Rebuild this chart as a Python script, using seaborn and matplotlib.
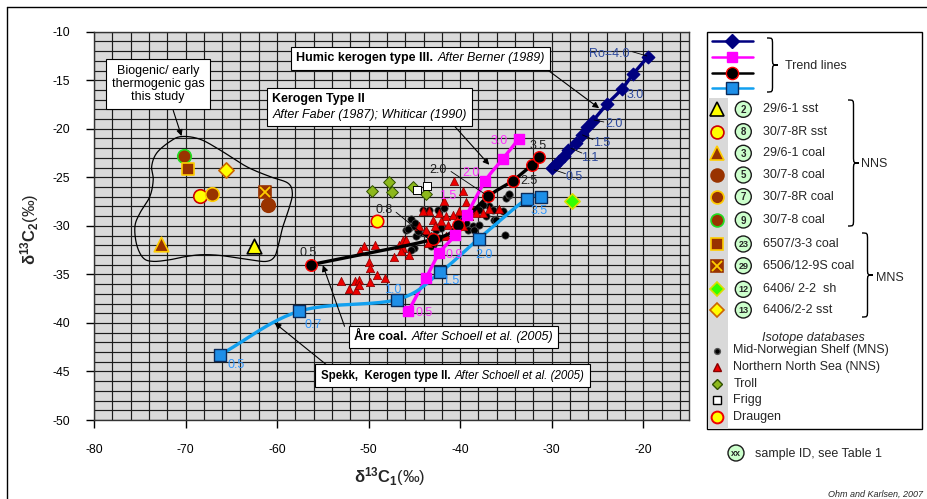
import numpy as np
import pandas as pd
import seaborn as sns
import matplotlib
matplotlib.use("Agg")
import matplotlib.pyplot as plt
from matplotlib.patches import Rectangle, Ellipse, PathPatch
from matplotlib.path import Path
from matplotlib.offsetbox import TextArea, HPacker, VPacker, AnnotationBbox

sns.set_theme(style="white")
plt.rcParams['font.family'] = ['Liberation Sans', 'DejaVu Sans']
plt.rcParams['mathtext.fontset'] = 'custom'
plt.rcParams['mathtext.rm'] = 'Liberation Sans'
plt.rcParams['mathtext.bf'] = 'Liberation Sans:bold'
plt.rcParams['mathtext.it'] = 'Liberation Sans:italic'
plt.rcParams['axes.unicode_minus'] = False

# ---------------- data ----------------
x_ticks = [-80, -70, -60, -50, -40, -30, -20]
y_ticks = [-50, -45, -40, -35, -30, -25, -20, -15, -10]

# Trend lines
humic_x = [-29.98, -29.62, -29.19, -28.64, -28.17, -27.30, -26.71, -26.10, -25.48, -23.99, -22.35, -21.12, -19.48]
humic_y = [-24.06, -23.72, -23.37, -22.79, -22.17, -21.42, -20.63, -19.77, -19.16, -17.48, -15.93, -14.39, -12.57]

magenta_x = [-45.65, -43.72, -42.27, -40.52, -39.30, -37.25, -35.36, -33.62]
magenta_y = [-38.80, -35.37, -32.80, -30.92, -28.90, -25.36, -23.13, -21.07]

faber_x = [-56.30, -43.00, -40.20, -36.93, -34.27, -32.16, -31.36]
faber_y = [-34.00, -31.40, -29.90, -26.97, -25.36, -23.71, -22.92]

spekk_x = [-66.19, -57.60, -46.92, -42.20, -37.97, -32.75, -31.15]
spekk_y = [-43.26, -38.80, -37.60, -34.79, -31.33, -27.24, -27.04]

# Isotope databases
mns_x = [-45.36, -44.09, -43.36, -42.45, -41.73, -45.90, -45.54, -45.00, -44.45, -44.82, -43.72, -42.63,
         -42.09, -43.00, -40.09, -39.73, -39.36, -38.64, -37.91, -36.82, -36.46, -36.27, -35.07, -35.00,
         -34.64, -37.55, -37.91, -39.18, -45.00, -43.00, -42.27, -34.71, -35.36, -45.35, -44.63, -43.17,
         -38.45, -37.18, -36.09, -45.72, -44.88]
mns_y = [-29.30, -28.34, -28.34, -28.34, -28.17, -30.40, -30.23, -30.06, -30.74, -31.08, -30.74, -30.40,
         -30.23, -31.08, -29.20, -29.37, -29.71, -30.06, -29.88, -28.00, -28.34, -29.37, -30.91, -27.14,
         -26.80, -27.83, -28.34, -30.40, -32.28, -31.94, -31.26, -26.70, -28.52, -32.46, -30.57, -32.12,
         -30.40, -29.03, -29.37, -30.33, -29.72]

nns_x = [-40.63, -39.73, -41.73, -39.36, -38.64, -43.36, -44.09, -42.27, -41.54, -40.82, -40.09, -43.00,
         -42.09, -41.36, -44.45, -43.72, -43.18, -43.54, -41.54, -39.73, -39.00, -38.27, -37.54, -36.82,
         -35.80, -46.27, -45.90, -46.63, -46.27, -45.54, -46.45, -47.18, -50.45, -49.25, -50.92, -49.98,
         -49.90, -49.10, -48.16, -53.00, -52.09, -51.36, -51.54, -51.00, -51.07, -49.83, -42.80, -40.30]
nns_y = [-25.40, -26.45, -27.48, -27.59, -28.34, -28.51, -28.51, -28.68, -29.03, -28.86, -28.51, -29.37,
         -29.54, -29.88, -30.06, -30.40, -31.08, -31.77, -31.08, -30.06, -29.03, -28.68, -28.68, -28.27,
         -28.24, -31.43, -31.43, -31.94, -32.28, -32.97, -32.63, -33.24, -32.04, -31.94, -32.63, -33.76,
         -34.34, -35.10, -35.37, -35.71, -36.47, -36.57, -35.71, -35.61, -36.13, -35.79, -30.00, -29.40]

troll_x = [-47.80, -49.65, -47.50, -45.18, -43.70]
troll_y = [-25.50, -26.36, -26.56, -25.95, -26.73]
frigg_x = [-44.74, -43.65]
frigg_y = [-26.29, -25.87]
draugen_x = [-49.06]
draugen_y = [-29.55]

# Samples of this study
sample_ids = ['2', '8', '3', '5', '7', '9', '23', '29', '12', '13']
sample_names = ['29/6-1 sst', '30/7-8R sst', '29/6-1 coal', '30/7-8 coal', '30/7-8R coal', '30/7-8 coal',
                '6507/3-3 coal', '6506/12-9S coal', '6406/ 2-2  sh', '6406/2-2 sst']
sample_x = [-62.55, -68.44, -72.70, -61.00, -67.10, -70.19, -69.70, -61.35, -27.73, -65.60]
sample_y = [-32.10, -26.90, -31.84, -27.83, -26.73, -22.83, -24.12, -26.50, -27.42, -24.20]

# Outline of the biogenic / early thermogenic field
field_x = [-70.44, -68.44, -66.26, -63.35, -60.80, -58.81, -58.33, -58.63, -59.36, -59.80, -60.26, -61.17,
           -62.99, -65.90, -68.08, -69.90, -71.71, -73.53, -74.62, -75.34, -75.53, -74.98, -73.90, -73.53,
           -73.70, -73.16, -71.71]
field_y = [-20.80, -21.07, -22.17, -23.89, -24.92, -25.60, -26.63, -28.00, -30.06, -31.77, -33.15, -33.66,
           -33.49, -33.08, -32.97, -33.15, -33.49, -33.66, -33.31, -31.94, -30.06, -28.68, -26.98, -25.26,
           -23.89, -22.51, -21.32]

# ---------------- styles ----------------
brown = '#993300'
sample_styles = [
    dict(marker='^', fc='#FFFF00', ec='black', s=110),
    dict(marker='o', fc='#FFFF00', ec='#CC0000', s=95),
    dict(marker='^', fc=brown, ec='#FFCC00', s=110),
    dict(marker='o', fc=brown, ec=brown, s=95),
    dict(marker='o', fc=brown, ec='#FFCC00', s=95),
    dict(marker='o', fc=brown, ec='#22DD22', s=95),
    dict(marker='s', fc=brown, ec='#FFCC00', s=85),
    dict(marker='s', fc=brown, ec=brown, s=85, cross=True),
    dict(marker='D', fc='#33FF00', ec='#DDDD00', s=60),
    dict(marker='D', fc='#FFFF00', ec='#CC6600', s=60),
]


def smooth(x, y, n=24, closed=False):
    P = np.column_stack([x, y]).astype(float)
    if closed:
        P = np.vstack([P[-1], P, P[0], P[1]])
    else:
        P = np.vstack([2 * P[0] - P[1], P, 2 * P[-1] - P[-2]])
    out = []
    t = np.linspace(0, 1, n, endpoint=False)[:, None]
    for i in range(1, len(P) - 2):
        p0, p1, p2, p3 = P[i - 1], P[i], P[i + 1], P[i + 2]
        seg = 0.5 * ((2 * p1) + (-p0 + p2) * t + (2 * p0 - 5 * p1 + 4 * p2 - p3) * t ** 2
                     + (-p0 + 3 * p1 - 3 * p2 + p3) * t ** 3)
        out.append(seg)
    out.append(P[-2][None, :])
    return np.vstack(out)


W, H = 928, 499
fig = plt.figure(figsize=(W / 100, H / 100), dpi=100)
fig.patch.set_facecolor('white')
L, R, T, B = 94, 689, 31.7, 420
ax = fig.add_axes([L / W, 1 - B / H, (R - L) / W, (B - T) / H])
ax.set_facecolor('#DADADA')
ax.set_xlim(-80, -15)
ax.set_ylim(-50, -10)
ax.set_xticks(x_ticks)
ax.set_xticklabels([str(v) for v in x_ticks])
ax.set_yticks(y_ticks)
ax.set_yticklabels([str(v) for v in y_ticks])
ax.set_xticks(np.arange(-80, -15, 2), minor=True)
ax.set_yticks(np.arange(-50, -9, 1), minor=True)
ax.grid(which='both', color='#1c1c1c', lw=0.85, zorder=0)
ax.set_axisbelow(True)
ax.tick_params(which='major', direction='out', length=6, width=1, pad=11, labelsize=8.8, colors='black',
               bottom=True, left=True)
ax.tick_params(which='minor', length=0)
for sp in ax.spines.values():
    sp.set_color('#333333')
    sp.set_linewidth(1)

# field outline
fo = smooth(field_x, field_y, closed=True)
ax.plot(fo[:, 0], fo[:, 1], color='black', lw=0.9, zorder=2)

# databases
sns.scatterplot(x=mns_x, y=mns_y, marker='o', s=28, color='black', edgecolor='#555555', linewidth=0.5,
                ax=ax, zorder=3, legend=False)
sns.scatterplot(x=nns_x, y=nns_y, marker='^', s=36, color='#EE0000', edgecolor='#880000', linewidth=0.5,
                ax=ax, zorder=3, legend=False)
sns.scatterplot(x=troll_x, y=troll_y, marker='D', s=36, color='#8DB81C', edgecolor='#2F4F00', linewidth=0.7,
                ax=ax, zorder=3, legend=False)
sns.scatterplot(x=frigg_x, y=frigg_y, marker='s', s=36, color='white', edgecolor='black', linewidth=0.7,
                ax=ax, zorder=3, legend=False)
sns.scatterplot(x=draugen_x, y=draugen_y, marker='o', s=80, color='#FFFF00', edgecolor='#EE0000', linewidth=1.2,
                ax=ax, zorder=3, legend=False)

# trend lines
trends = [
    (humic_x, humic_y, '#000080', 'D', '#000080', '#000080', 40),
    (faber_x, faber_y, 'black', 'o', 'black', '#FF0000', 70),
    (magenta_x, magenta_y, '#FF00FF', 's', '#FF00FF', '#FF00FF', 48),
    (spekk_x, spekk_y, '#11A0F0', 's', '#1E8FE8', '#0A2A5A', 70),
]
for tx, ty, col, mk, mfc, mec, ms in trends:
    c = smooth(tx, ty)
    sns.lineplot(x=c[:, 0], y=c[:, 1], sort=False, estimator=None, color=col, lw=2.4, ax=ax, zorder=4)
    sns.scatterplot(x=tx, y=ty, marker=mk, s=ms, color=mfc, edgecolor=mec, linewidth=1.0, ax=ax, zorder=5,
                    legend=False)

# samples of this study
for i in range(len(sample_x)):
    st = sample_styles[i]
    sns.scatterplot(x=[sample_x[i]], y=[sample_y[i]], marker=st['marker'], s=st['s'], color=st['fc'],
                    edgecolor=st['ec'], linewidth=1.2, ax=ax, zorder=6, legend=False)
    if st.get('cross'):
        ax.plot([sample_x[i]], [sample_y[i]], marker='x', ms=7, mew=1.3, color='#FFCC00', zorder=7, ls='none')

# trend labels
navy_c = '#2E4A9E'
lab_kw = dict(fontsize=9, ha='center', va='center', zorder=8)
for txt, (lx, ly) in zip(['0.5', '1.1', '1.5', '2.0', '3.0', 'Ro=4.0'],
                         [(-27.55, -24.92), (-25.84, -22.96), (-24.57, -21.42), (-23.19, -19.53),
                          (-20.93, -16.5), (-23.7, -12.3)]):
    ax.text(lx, ly, txt, color=navy_c, **lab_kw)
for (x0, y0), (x1, y1) in [((-29.73, -24.23), (-28.5, -24.62)), ((-27.91, -22.0), (-26.7, -22.5)),
                           ((-26.64, -20.63), (-25.5, -21.1)), ((-25.37, -19.09), (-24.3, -19.3)),
                           ((-21.19, -12.06), (-19.6, -12.5))]:
    ax.plot([x0, x1], [y0, y1], color='black', lw=0.6, zorder=7)

mag_c = '#FF33FF'
for txt, (lx, ly) in zip(['0.5', '0.9', '1.5', '2.0', '3.0'],
                         [(-43.9, -39.0), (-40.7, -32.97), (-41.36, -26.97), (-38.82, -24.57), (-35.73, -21.21)]):
    ax.text(lx, ly, txt, color=mag_c, **lab_kw)
blue_c = '#3399FF'
for txt, (lx, ly) in zip(['0.5', '0.7', '1.0', '1.5', '2.0', '3.5'],
                         [(-64.5, -44.3), (-56.08, -40.18), (-47.36, -36.57), (-41.0, -35.7),
                          (-37.36, -32.97), (-31.36, -28.51)]):
    ax.text(lx, ly, txt, color=blue_c, **lab_kw)
for txt, (lx, ly) in zip(['0.5', '0.8', '2.0', '2.5', '3.5'],
                         [(-56.62, -32.8), (-48.26, -28.35), (-42.45, -24.22), (-32.53, -25.42), (-31.44, -21.82)]):
    ax.text(lx, ly, txt, color='#222222', **lab_kw)
ax.plot([-47.0, -43.35], [-28.6, -31.43], color='black', lw=0.6, zorder=7)
ax.plot([-41.0, -37.18], [-24.4, -26.8], color='black', lw=0.6, zorder=7)


# annotation boxes
def tarea(s, **kw):
    p = dict(size=9, color='black')
    p.update(kw)
    return TextArea(s, textprops=p)


def add_box(child, xy):
    ab = AnnotationBbox(child, xy, xycoords='data', frameon=True, pad=0.35,
                        bboxprops=dict(edgecolor='black', lw=0.8, facecolor='white', boxstyle='square,pad=0.35'))
    ab.set_zorder(20)
    ax.add_artist(ab)


def arrow(start, end):
    ax.annotate('', xy=end, xytext=start, xycoords='data',
                arrowprops=dict(arrowstyle='-|>', color='black', lw=0.8, mutation_scale=9, shrinkA=0, shrinkB=0),
                zorder=19)


add_box(VPacker(children=[tarea('Biogenic/ early'), tarea('thermogenic gas'),
                          tarea('this study')], align='center', pad=0, sep=1), (-73.02, -15.38))
arrow((-71.35, -18.1), (-70.44, -20.75))

add_box(HPacker(children=[tarea('Humic kerogen type III.', weight='bold'),
                          tarea('After Berner (1989)', style='italic')], align='baseline', pad=0, sep=3),
        (-44.34, -12.76))
arrow((-31.36, -13.3), (-24.82, -17.88))

add_box(VPacker(children=[tarea('Kerogen Type II', weight='bold'),
                          tarea('After Faber (1987); Whiticar (1990)', style='italic')],
                align='left', pad=0, sep=3), (-49.9, -17.76))
arrow((-40.6, -19.75), (-36.82, -23.71))

add_box(HPacker(children=[tarea('Åre coal.', weight='bold'),
                          tarea('After Schoell et al. (2005)', style='italic')], align='baseline', pad=0, sep=3),
        (-40.74, -41.46))
arrow((-52.63, -40.35), (-55.0, -34.05))

add_box(HPacker(children=[tarea('Spekk,  Kerogen type II.', weight='bold', size=8.3),
                          tarea('After Schoell et al. (2005)', style='italic', size=8.3)],
                align='baseline', pad=0, sep=3),
        (-40.85, -45.42))
arrow((-54.63, -44.29), (-60.26, -40.0))

# axis labels
fig.text(390 / W, 1 - 477 / H, r'$\mathbf{\delta^{13}C_1}$(‰)', ha='center', va='center', fontsize=12)
fig.text(30 / W, 1 - 229 / H, r'$\mathbf{\delta^{13}C_2}$(‰)', ha='center', va='center', fontsize=12,
         rotation=90)

# ---------------- legend (overlay in pixel units) ----------------
ov = fig.add_axes([0, 0, 1, 1], zorder=10)
ov.set_xlim(0, W)
ov.set_ylim(H, 0)
ov.axis('off')
ov.patch.set_alpha(0)

ov.plot([7, W], [7, 7], color='black', lw=1)
ov.plot([7, 7], [7, H], color='black', lw=1)

ov.add_patch(Rectangle((707, 31.7), 214.7, 397.6, fc='white', ec='black', lw=1))
ov.add_patch(Rectangle((707.6, 98.3), 20, 330.4, fc='#D9D9D9', ec='none'))


def brace(x, y0, y1, w):
    r = min(w * 0.6, (y1 - y0) / 4)
    ym = (y0 + y1) / 2
    xm = x + w * 0.5
    verts = [(x, y0), (xm, y0), (xm, y0), (xm, y0 + r),
             (xm, ym - r), (xm, ym), (xm, ym), (x + w, ym),
             (xm, ym), (xm, ym), (xm, ym + r),
             (xm, y1 - r), (xm, y1), (xm, y1), (x, y1)]
    codes = [Path.MOVETO, Path.CURVE4, Path.CURVE4, Path.CURVE4,
             Path.LINETO, Path.CURVE4, Path.CURVE4, Path.CURVE4,
             Path.CURVE4, Path.CURVE4, Path.CURVE4,
             Path.LINETO, Path.CURVE4, Path.CURVE4, Path.CURVE4]
    ov.add_patch(PathPatch(Path(verts, codes), fc='none', ec='black', lw=1))


# trend line keys
for yy, (tx, ty, col, mk, mfc, mec, ms) in zip([40.7, 56.7, 72.7, 88.3],
                                              [trends[0], trends[2], trends[1], trends[3]]):
    ov.plot([712, 753], [yy, yy], color=col, lw=1.8)
    ov.plot([732], [yy], marker=mk, ms=np.sqrt(ms) * 1.05, mfc=mfc, mec=mec, mew=1.0, ls='none')
brace(767, 38, 92, 11)
ov.text(785, 66, 'Trend lines', fontsize=9, va='center', ha='left')


def id_circle(x, y, txt, fs=7):
    ov.add_patch(Ellipse((x, y), 16, 16, fc='#CCFFCC', ec='#1a1a1a', lw=1))
    ov.text(x, y + 0.5, txt, fontsize=fs, fontweight='bold', ha='center', va='center')


rows_y = [109.3, 131.7, 153.3, 175.0, 196.7, 220.0, 244.0, 265.7, 289.3, 310.0]
for i, yy in enumerate(rows_y):
    st = sample_styles[i]
    ov.plot([716.7], [yy], marker=st['marker'], ms=np.sqrt(st['s']) * 0.95, mfc=st['fc'], mec=st['ec'],
            mew=1.2, ls='none')
    if st.get('cross'):
        ov.plot([716.7], [yy], marker='x', ms=7, mew=1.3, color='#FFCC00', ls='none')
    id_circle(743.3, yy, sample_ids[i], fs=6.5 if len(sample_ids[i]) > 1 else 7)
    ov.text(763, yy, sample_names[i], fontsize=9, va='center', ha='left')
brace(848, 100, 226, 11)
ov.text(861, 164, 'NNS', fontsize=9, va='center', ha='left')
brace(862, 233, 317, 11)
ov.text(876, 278, 'MNS', fontsize=9, va='center', ha='left')

ov.text(813, 337.5, 'Isotope databases', fontsize=9, style='italic', ha='center', va='center')
db_rows = [
    ('Mid-Norwegian Shelf (MNS)', 'o', 4.2, 'black', '#555555'),
    ('Northern North Sea (NNS)', '^', 5.2, '#EE0000', '#880000'),
    ('Troll', 'D', 5.2, '#8DB81C', '#2F4F00'),
    ('Frigg', 's', 5.5, 'white', 'black'),
    ('Draugen', 'o', 8.5, '#FFFF00', '#EE0000'),
]
for yy, (name, mk, ms, fc, ec) in zip([350.5, 367, 384, 400, 417.3], db_rows):
    ov.plot([716.7], [yy], marker=mk, ms=ms, mfc=fc, mec=ec, mew=1.0 if name != 'Draugen' else 1.4, ls='none')
    ov.text(733.5, yy, name, fontsize=9, va='center', ha='left')

id_circle(736, 453, 'xx', fs=6.5)
ov.text(755, 453.5, 'sample ID, see Table 1', fontsize=9, va='center', ha='left')
ov.text(923, 494, 'Ohm and Karlsen, 2007', fontsize=6.5, style='italic', va='center', ha='right')

fig.savefig('out.png', dpi=100)
